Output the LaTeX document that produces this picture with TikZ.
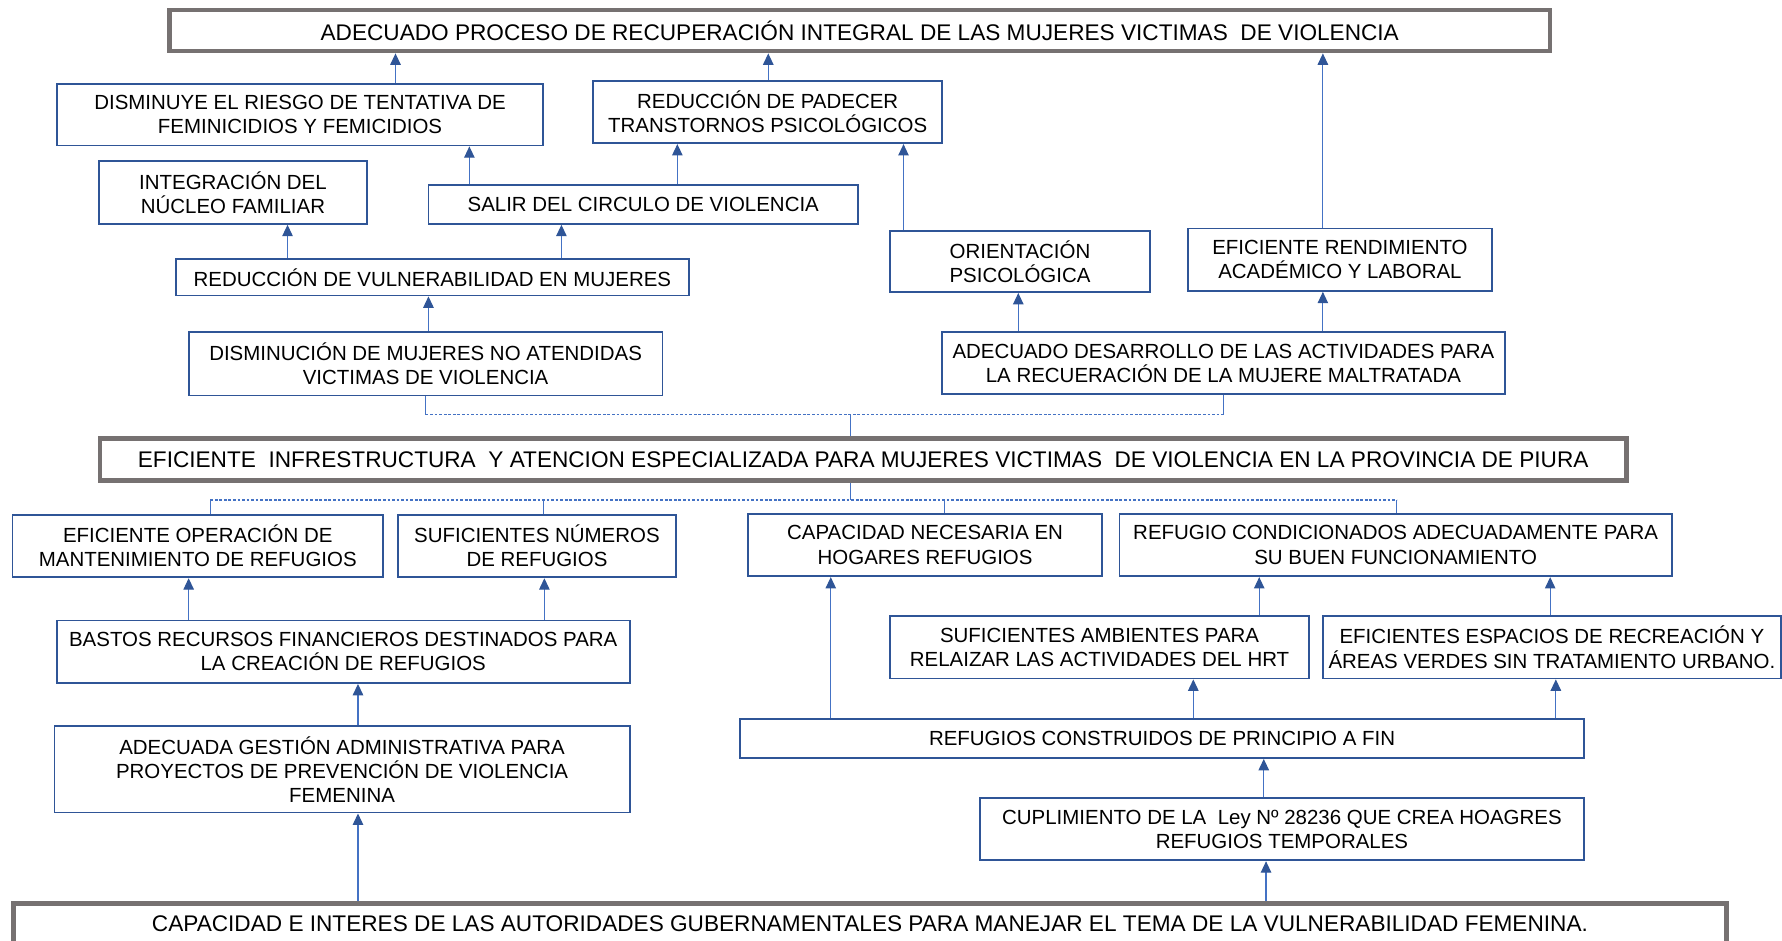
\documentclass[tikz,border=0pt]{standalone}
\usepackage{fontspec}
\setmainfont{Liberation Sans}
\usepackage{tikz}
\usetikzlibrary{arrows.meta}
\definecolor{azulcaja}{HTML}{2F5597}
\definecolor{azulflecha}{HTML}{4472C4}
\definecolor{grismarco}{HTML}{767171}
\tikzset{
  caja/.style={draw=azulcaja, line width=0.8pt, fill=white, align=center, inner sep=0pt, font=\fontsize{9}{10.6}\selectfont},
  marco/.style={draw=grismarco, line width=2pt, fill=white, align=center, inner sep=0pt, font=\fontsize{9.95}{11.5}\selectfont},
  flecha/.style={draw=azulflecha, line width=0.5pt, -{Triangle[length=5pt, width=4.6pt, color=azulcaja]}},
  linea/.style={draw=azulflecha, line width=0.45pt},
  punteo/.style={draw=azulflecha, line width=0.6pt, dash pattern=on 1.2pt off 0.8pt}
}

\begin{document}
\begin{tikzpicture}[x=0.5pt, y=-0.5pt]
\useasboundingbox (0,0) rectangle (1568,828);

% fines
\node[marco, minimum width=607.5pt, minimum height=18pt] (fin) at (756.5,27) {ADECUADO PROCESO DE RECUPERACIÓN INTEGRAL DE LAS MUJERES VICTIMAS~ DE VIOLENCIA};
\node[caja, minimum width=214pt, minimum height=27pt] (riesgo) at (264,101) {DISMINUYE EL RIESGO DE TENTATIVA DE\\FEMINICIDIOS Y FEMICIDIOS};
\node[caja, minimum width=153.5pt, minimum height=27.5pt] (trastornos) at (675.5,98.5) {REDUCCIÓN DE PADECER\\TRANSTORNOS PSICOLÓGICOS};
\node[caja, minimum width=118pt, minimum height=27.5pt] (nucleo) at (205,169.5) {INTEGRACIÓN DEL\\NÚCLEO FAMILIAR};
\node[caja, minimum width=189pt, minimum height=17pt] (circulo) at (566,180) {SALIR DEL CIRCULO DE VIOLENCIA};
\node[caja, minimum width=225.5pt, minimum height=16pt] (vulnera) at (380.5,244) {REDUCCIÓN DE VULNERABILIDAD EN MUJERES};
\node[caja, minimum width=114.5pt, minimum height=27pt] (orienta) at (897.5,230) {ORIENTACIÓN\\PSICOLÓGICA};
\node[caja, minimum width=134pt, minimum height=27.5pt] (rendim) at (1179,228.5) {EFICIENTE RENDIMIENTO\\ACADÉMICO Y LABORAL};
\node[caja, minimum width=208.5pt, minimum height=28pt] (atendidas) at (374.5,320) {DISMINUCIÓN DE MUJERES NO ATENDIDAS\\VICTIMAS DE VIOLENCIA};
\node[caja, minimum width=247.5pt, minimum height=27.5pt] (desarrollo) at (1076.5,319.5) {ADECUADO DESARROLLO DE LAS ACTIVIDADES PARA\\LA RECUERACIÓN DE LA MUJERE MALTRATADA};

% objetivo central
\node[marco, minimum width=671.5pt, minimum height=18.5pt] (objetivo) at (759.5,404.5) {EFICIENTE~ INFRESTRUCTURA~ Y ATENCION ESPECIALIZADA PARA MUJERES VICTIMAS~ DE VIOLENCIA EN LA PROVINCIA DE PIURA};

% medios
\node[caja, minimum width=163pt, minimum height=27.5pt] (operacion) at (174,480.5) {EFICIENTE OPERACIÓN DE\\MANTENIMIENTO DE REFUGIOS};
\node[caja, minimum width=122.5pt, minimum height=27.5pt] (numeros) at (472.5,480.5) {SUFICIENTES NÚMEROS\\DE REFUGIOS};
\node[caja, minimum width=156pt, minimum height=27.5pt] (capacidad) at (814,479.5) {CAPACIDAD NECESARIA EN\\HOGARES REFUGIOS};
\node[caja, minimum width=243pt, minimum height=27.5pt] (condic) at (1228,479.5) {REFUGIO CONDICIONADOS ADECUADAMENTE PARA\\SU BUEN FUNCIONAMIENTO};
\node[caja, minimum width=252pt, minimum height=27.5pt] (financ) at (302,573.5) {BASTOS RECURSOS FINANCIEROS DESTINADOS PARA\\LA CREACIÓN DE REFUGIOS};
\node[caja, minimum width=184.5pt, minimum height=27.5pt] (ambientes) at (967.5,569.5) {SUFICIENTES AMBIENTES PARA\\RELAIZAR LAS ACTIVIDADES DEL HRT};
\node[caja, minimum width=201.5pt, minimum height=27.5pt] (espacios) at (1365.5,569.5) {EFICIENTES ESPACIOS DE RECREACIÓN Y\\ÁREAS VERDES SIN TRATAMIENTO URBANO.};
\node[caja, minimum width=253pt, minimum height=38pt] (gestion) at (301,677) {ADECUADA GESTIÓN ADMINISTRATIVA PARA\\PROYECTOS DE PREVENCIÓN DE VIOLENCIA\\FEMENINA};
\node[caja, minimum width=371.5pt, minimum height=17pt] (construidos) at (1022.5,650) {REFUGIOS CONSTRUIDOS DE PRINCIPIO A FIN};
\node[caja, minimum width=266pt, minimum height=27.5pt] (ley) at (1128,729.5) {CUPLIMIENTO DE LA~ Ley Nº 28236 QUE CREA HOAGRES\\REFUGIOS TEMPORALES};
\node[marco, minimum width=753.5pt, minimum height=18pt] (causa) at (765.5,813) {CAPACIDAD E INTERES DE LAS AUTORIDADES GUBERNAMENTALES PARA MANEJAR EL TEMA DE LA VULNERABILIDAD FEMENINA.};

% flechas hacia arriba
\foreach \a/\b/\x in {riesgo/fin/348, trastornos/fin/676, rendim/fin/1164,
  circulo/riesgo/413, circulo/trastornos/596, orienta/trastornos/795,
  vulnera/nucleo/253, vulnera/circulo/494, atendidas/vulnera/377,
  desarrollo/orienta/896, desarrollo/rendim/1164,
  financ/operacion/166, financ/numeros/479, gestion/financ/315,
  causa/gestion/315, construidos/capacidad/731, construidos/ambientes/1050,
  construidos/espacios/1369, ambientes/condic/1108, espacios/condic/1364,
  ley/construidos/1112, causa/ley/1114}
{
  \draw[flecha] (\a.north -| \x,0) -- (\b.south -| \x,0);
}

% union superior
\coordinate (ua) at (748,365);
\draw[linea] (atendidas.south) -- (atendidas.south |- ua);
\draw[linea] (desarrollo.south) -- (desarrollo.south |- ua);
\draw[punteo] (atendidas.south |- ua) -- (desarrollo.south |- ua);
\draw[linea] (ua) -- (objetivo.north -| ua);

% union inferior
\coordinate (ub) at (748,440);
\coordinate (d1) at (185,440);
\coordinate (d2) at (478,440);
\coordinate (d3) at (831,440);
\coordinate (d4) at (1229,440);
\draw[linea] (objetivo.south -| ub) -- (ub);
\draw[punteo] (d1) -- (d4);
\foreach \n/\d in {operacion/d1, numeros/d2, capacidad/d3, condic/d4}
{
  \draw[linea] (\d) -- (\n.north -| \d);
}
\end{tikzpicture}
\end{document}
